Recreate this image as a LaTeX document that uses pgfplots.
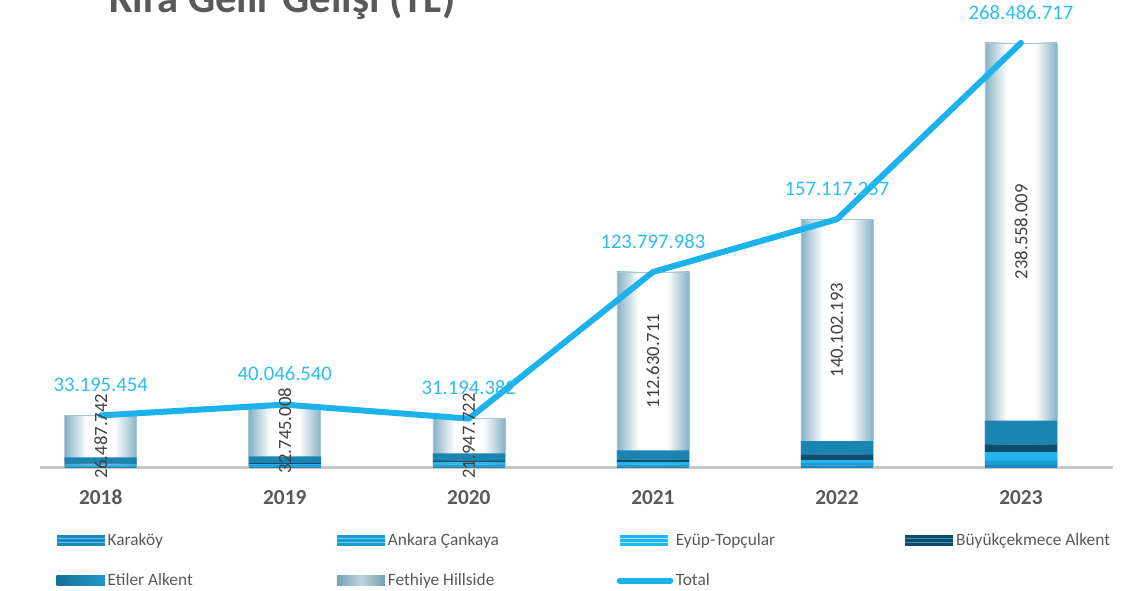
\documentclass[border=0pt]{standalone}
\usepackage{fontspec}
\setmainfont{Carlito}
\usepackage{pgfplots}
\usepackage{pgfplotstable}
\pgfplotsset{compat=1.18}

\definecolor{karC}{HTML}{1B87BD}
\definecolor{karS}{HTML}{62C2EC}
\definecolor{ankC}{HTML}{1A9AD4}
\definecolor{ankS}{HTML}{74D2F6}
\definecolor{eyuC}{HTML}{22B5EF}
\definecolor{eyuS}{HTML}{A8E4FA}
\definecolor{buyC}{HTML}{0D4D6B}
\definecolor{buyS}{HTML}{3F8CAE}
\definecolor{etiD}{HTML}{11709A}
\definecolor{etiL}{HTML}{2399C8}
\definecolor{etiM}{HTML}{1A84B2}
\definecolor{fetC}{HTML}{86B2C4}
\definecolor{fetE}{HTML}{A8C8D6}
\definecolor{lineC}{HTML}{1CB2EC}
\definecolor{lblC}{HTML}{2DBDF0}
\definecolor{txtC}{HTML}{595959}
\definecolor{baseC}{HTML}{C8C8C8}

% gray-blue at the sides, a wide white band in the middle (bar spans 25bp..75bp)
\pgfdeclarehorizontalshading{fetshade}{100bp}{rgb(0bp)=(0.525,0.698,0.769); rgb(25bp)=(0.525,0.698,0.769); rgb(31bp)=(0.714,0.820,0.863); rgb(40bp)=(1,1,1); rgb(60bp)=(1,1,1); rgb(69bp)=(0.714,0.820,0.863); rgb(75bp)=(0.525,0.698,0.769); rgb(100bp)=(0.525,0.698,0.769)}

\pgfplotstableread{
x kar ank eyup buyuk etiler fethiye total fetlbl totlbl
0 800000 900000 600000 400000 4007712 26487742 33195454 26.487.742 33.195.454
1 900000 900000 700000 500000 4301532 32745008 40046540 32.745.008 40.046.540
2 900000 1200000 1400000 1300000 4446660 21947722 31194382 21.947.722 31.194.382
3 1000000 1200000 1500000 1600000 5867272 112630711 123797983 112.630.711 123.797.983
4 1500000 1600000 1900000 3600000 8415064 140102193 157117257 140.102.193 157.117.257
5 2000000 2500000 5500000 4900000 15028708 238558009 268486717 238.558.009 268.486.717
}\gelir

\pgfplotsset{
  geom/.style={
    at={(0,0)}, anchor=south west,
    scale only axis, width=804.75pt, height=351pt,
    xmin=-0.33, xmax=5.5, ymin=0, ymax=295.6e6,
  },
}

\begin{document}
\begin{tikzpicture}
% shaded Fethiye bars, one plot per year so that each bar gets its own gradient
\begin{axis}[geom, hide axis, ybar, bar width=54pt]
\pgfplotsinvokeforeach{0,...,5}{
\addplot[bar shift=0pt, draw=fetE, line width=0.5pt, shade, shading=fetshade, shading angle=0]
  table[x=x, y=total, restrict x to domain=#1:#1]{\gelir};
}
\end{axis}

\begin{axis}[geom,
  ybar stacked, bar width=54pt,
  axis x line*=bottom, axis y line=none,
  x axis line style={draw=baseC, line width=2.25pt, -},
  xtick={0,1,2,3,4,5},
  xticklabels={2018,2019,2020,2021,2022,2023},
  major tick length=0pt,
  xticklabel style={font=\fontsize{16}{19}\selectfont\bfseries, text=txtC, yshift=-13pt},
  legend columns=4,
  legend style={draw=none, fill=none, at={(0.011,-0.128)}, anchor=north west,
    font=\fontsize{13}{15}\selectfont, text=txtC,
    /tikz/every even column/.append style={column sep=2pt},
    row sep=15.5pt},
  legend cell align=left,
]
\addplot[fill=karC, draw=none,
  legend image code/.code={\fill[karC] (0pt,-4pt) rectangle (36pt,4pt);
    \draw[karS, line width=0.7pt] (0pt,-1.4pt)--(36pt,-1.4pt) (0pt,1.4pt)--(36pt,1.4pt);}]
  table[x=x,y=kar]{\gelir};
\addlegendentry{\makebox[167.5pt][l]{Karaköy}}
\addplot[fill=ankC, draw=none,
  legend image code/.code={\fill[ankC] (0pt,-4pt) rectangle (36pt,4pt);
    \draw[ankS, line width=0.7pt] (0pt,-1.4pt)--(36pt,-1.4pt) (0pt,1.4pt)--(36pt,1.4pt);}]
  table[x=x,y=ank]{\gelir};
\addlegendentry{\makebox[167.5pt][l]{Ankara Çankaya}}
\addplot[fill=eyuC, draw=none,
  legend image code/.code={\fill[eyuC] (0pt,-4pt) rectangle (36pt,4pt);
    \draw[eyuS, line width=0.7pt] (0pt,-1.4pt)--(36pt,-1.4pt) (0pt,1.4pt)--(36pt,1.4pt);}]
  table[x=x,y=eyup]{\gelir};
\addlegendentry{\makebox[167.5pt][l]{Eyüp-Topçular}}
\addplot[fill=buyC, draw=none,
  legend image code/.code={\fill[buyC] (0pt,-4pt) rectangle (36pt,4pt);
    \draw[buyS, line width=0.7pt] (0pt,-1.4pt)--(36pt,-1.4pt) (0pt,1.4pt)--(36pt,1.4pt);}]
  table[x=x,y=buyuk]{\gelir};
\addlegendentry{Büyükçekmece Alkent}
\addplot[fill=etiM, draw=none,
  legend image code/.code={\shade[left color=etiD, right color=etiL] (0pt,-4pt) rectangle (36pt,4pt);}]
  table[x=x,y=etiler]{\gelir};
\addlegendentry{\makebox[167.5pt][l]{Etiler Alkent}}
% Fethiye segment is stacked here invisibly; its shaded bars are drawn in the first axis
\addplot[draw=none, fill=none,
  legend image code/.code={\shade[left color=fetC!90!black, right color=fetC!90!black, middle color=fetC!55!white] (0pt,-4pt) rectangle (36pt,4pt);}]
  table[x=x,y=fethiye]{\gelir};
\addlegendentry{\makebox[167.5pt][l]{Fethiye Hillside}}
\addlegendimage{legend image code/.code={\draw[lineC, line width=4.5pt, line cap=round] (0pt,0pt)--(38pt,0pt);}}
\addlegendentry{Total}
\end{axis}

\begin{axis}[geom, hide axis, clip=false]
\addplot[draw=none, mark=none, nodes near coords, point meta=explicit symbolic,
  every node near coord/.append style={rotate=90, anchor=center,
    font=\fontsize{14}{16}\selectfont, text=black!75}]
  table[x=x, y expr=\thisrow{kar}+\thisrow{ank}+\thisrow{eyup}+\thisrow{buyuk}+\thisrow{etiler}+0.5*\thisrow{fethiye}, meta=fetlbl]{\gelir};
\addplot[lineC, line width=4.5pt, line cap=round, line join=round, mark=none,
  nodes near coords, point meta=explicit symbolic,
  every node near coord/.append style={anchor=center, yshift=23pt,
    font=\fontsize{15.5}{18}\selectfont, text=lblC}]
  table[x=x, y=total, meta=totlbl]{\gelir};
\end{axis}

\node[anchor=base east, font=\fontsize{32}{36}\selectfont\bfseries, text=txtC] at (315pt,341.25pt) {Kira Gelir Gelişi (TL)};

\pgfresetboundingbox
\path[use as bounding box] (-30pt,-92.25pt) rectangle (816pt,351pt);
\end{tikzpicture}
\end{document}
